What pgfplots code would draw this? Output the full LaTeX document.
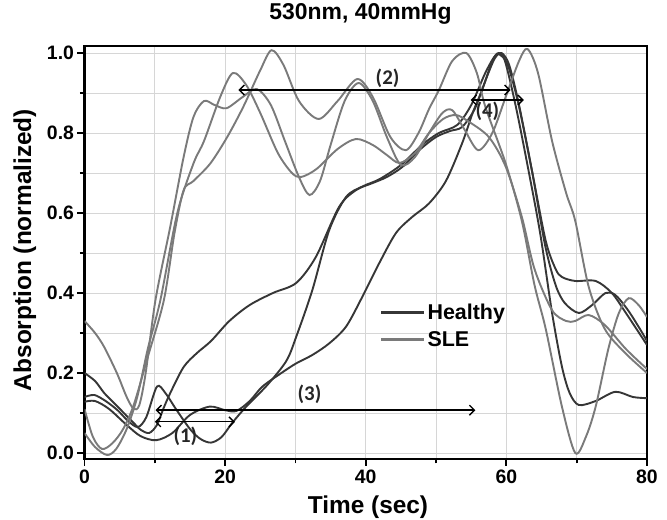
\documentclass[border=0pt]{standalone}
\usepackage{pgfplots}
\pgfplotsset{compat=1.18}
\usepackage{fontspec}
\setmainfont{Liberation Sans}
\newfontfamily\annfont{Carlito}
\usetikzlibrary{arrows.meta}
\definecolor{healthy}{HTML}{363636}
\definecolor{sle}{HTML}{7a7a7a}
\begin{document}
\begin{tikzpicture}
\useasboundingbox (0,0) rectangle (667bp,520bp);
\begin{axis}[
  at={(84.5bp,61bp)}, anchor=south west,
  scale only axis, width=562.5bp, height=413bp,
  xmin=0, xmax=80, ymin=-0.015, ymax=1.0175,
  xtick={0,20,40,60,80}, minor xtick={10,30,50,70},
  ytick={0,0.2,0.4,0.6,0.8,1.0}, minor ytick={0.1,0.3,0.5,0.7,0.9},
  grid=both,
  major grid style={black!16, line width=0.9bp},
  minor grid style={black!16, line width=0.9bp},
  tick align=outside, xtick pos=bottom, ytick pos=left,
  major tick length=7bp, minor tick length=4.5bp,
  every tick/.style={black, line width=1.8bp},
  axis line style={black, line width=2.3bp},
  /pgf/number format/assume math mode=true,
  tick label style={font=\fontsize{19.5}{21}\selectfont\bfseries},
  yticklabel style={/pgf/number format/.cd, fixed, fixed zerofill, precision=1},
  title={530nm, 40mmHg},
  title style={at={(axis description cs:0.4907,1.049)}, anchor=base, font=\fontsize{23}{25}\selectfont\bfseries},
  xlabel={Time (sec)},
  xlabel style={at={(axis description cs:0.504,-0.1308)}, anchor=base, font=\fontsize{24.5}{26}\selectfont\bfseries},
  ylabel={Absorption (normalized)},
  ylabel style={at={(axis description cs:-0.0951,0.506)}, anchor=base, font=\fontsize{24.5}{26}\selectfont\bfseries},
  legend style={at={(axis description cs:0.525,0.38)}, anchor=north west, draw=none, fill=none,
    font=\fontsize{21.5}{24}\selectfont\bfseries, row sep=6bp, inner sep=0pt},
  legend cell align=left,
  legend image code/.code={\draw[#1, line width=2.6bp] (0bp,0bp) -- (43bp,0bp);},
  every axis plot/.append style={line width=1.9bp, smooth},
]
% Healthy
\addplot[healthy] coordinates {(0,0.20) (1.5,0.18) (2.8,0.15) (4.2,0.125) (5.6,0.10) (7,0.075) (8,0.058) (9.2,0.05) (10.3,0.07) (11.2,0.11) (12.2,0.15) (14.1,0.215) (16,0.25) (18,0.28) (20.6,0.33) (23.5,0.37) (26.8,0.40) (30.1,0.425) (32.9,0.49) (36.2,0.615) (38.6,0.657) (41,0.675) (43,0.69) (45.2,0.715) (47.6,0.757) (50,0.79) (52,0.805) (53.7,0.815) (55.5,0.86) (57,0.93) (58.3,0.985) (59.3,1.0) (60.4,0.97) (61.8,0.87) (63.7,0.70) (65.5,0.52) (67,0.42) (68.3,0.375) (70.3,0.35) (72.2,0.37) (74.1,0.40) (75.5,0.395) (77.3,0.357) (79,0.31) (80,0.28)};
\addlegendentry{Healthy}
\addplot[healthy, forget plot] coordinates {(0,0.14) (1.4,0.145) (3,0.13) (4.7,0.107) (6.2,0.08) (7.6,0.065) (8.8,0.09) (10.3,0.166) (11.5,0.15) (13,0.11) (15,0.06) (16.5,0.035) (18,0.026) (19.5,0.04) (21,0.075) (23,0.116) (26,0.17) (28.7,0.23) (30.1,0.29) (32.4,0.407) (34.8,0.557) (37.2,0.64) (39.5,0.666) (42,0.685) (45,0.72) (48,0.77) (50.4,0.80) (53,0.82) (55,0.87) (57,0.95) (58.5,0.995) (59.5,0.99) (60.4,0.96) (61.8,0.866) (63.7,0.70) (65.6,0.53) (67,0.46) (67.9,0.44) (69.8,0.43) (72.7,0.43) (75,0.40) (77,0.35) (80,0.27)};
\addplot[healthy, forget plot] coordinates {(0,0.128) (1.5,0.13) (3.5,0.11) (6,0.07) (8,0.042) (10.2,0.032) (12.5,0.05) (15,0.095) (17.8,0.116) (20,0.107) (21.6,0.105) (23.5,0.13) (25.3,0.166) (28,0.20) (30.1,0.224) (32.4,0.245) (34.8,0.274) (37.2,0.316) (39.5,0.39) (41.9,0.474) (44.3,0.55) (46.6,0.59) (49,0.624) (51.4,0.68) (53.7,0.774) (55.2,0.85) (56.6,0.91) (58,0.98) (58.9,1.0) (59.8,0.98) (61.3,0.87) (63,0.72) (64.8,0.55) (66.5,0.35) (67.9,0.216) (69,0.15) (70.3,0.12) (72.7,0.13) (75.5,0.153) (78,0.14) (80,0.137)};
% SLE
\addplot[sle] coordinates {(0,0.33) (1.5,0.30) (2.8,0.265) (4.6,0.20) (6,0.14) (7,0.11) (7.8,0.12) (8.7,0.2) (10.1,0.383) (12.2,0.566) (14.1,0.74) (15.5,0.84) (17,0.88) (18.5,0.87) (20.2,0.862) (22.5,0.89) (24.5,0.91) (26.5,0.87) (28.5,0.78) (30.5,0.69) (32,0.645) (33.5,0.68) (35,0.77) (37,0.88) (39,0.925) (41,0.88) (43,0.79) (45,0.72) (47,0.74) (49,0.80) (50.9,0.85) (52.3,0.857) (54,0.81) (56,0.757) (58,0.80) (59.9,0.89) (61.8,0.98) (63,1.01) (64.5,0.95) (66.5,0.78) (68.5,0.65) (69.8,0.58) (71.7,0.416) (74,0.31) (76.9,0.25) (80,0.20)};
\addlegendentry{SLE}
\addplot[sle, forget plot] coordinates {(0,0.05) (1.5,0.015) (3.2,-0.005) (4.5,0.01) (6,0.06) (7.5,0.14) (9,0.26) (10.8,0.383) (13.2,0.60) (15.5,0.724) (17,0.78) (19.3,0.89) (21.1,0.95) (23,0.92) (25,0.85) (27.5,0.75) (29.5,0.70) (30.8,0.69) (33,0.71) (36,0.76) (38.6,0.785) (41,0.77) (43,0.745) (44.8,0.725) (47,0.75) (49,0.80) (51,0.835) (52.8,0.845) (54.5,0.83) (57.5,0.79) (59.9,0.716) (62.2,0.59) (64,0.46) (66.5,0.357) (68.5,0.33) (69.8,0.33) (71.7,0.345) (74,0.32) (77,0.26) (80,0.21)};
\addplot[sle, forget plot] coordinates {(0,0.11) (1.2,0.04) (2.5,0.01) (4,0.025) (5.5,0.06) (7,0.12) (9,0.24) (11.3,0.383) (12.8,0.55) (14.1,0.657) (15.5,0.68) (17.9,0.724) (20.3,0.79) (22.6,0.866) (25,0.957) (26.6,1.007) (28.3,0.97) (30.5,0.88) (33.3,0.835) (36,0.88) (38.8,0.935) (41,0.89) (43.5,0.79) (45.7,0.757) (47.5,0.80) (49,0.86) (50.4,0.907) (52.3,0.98) (54.3,1.0) (55.8,0.95) (57,0.866) (59.9,0.724) (62.2,0.58) (64,0.42) (65.6,0.31) (67.9,0.116) (69.8,0.0) (71.3,0.04) (72.7,0.116) (74.5,0.26) (76,0.35) (77.4,0.387) (78.8,0.37) (80,0.34)};
% annotation arrows
\addplot[black, line width=1.4bp, sharp plot, forget plot, {Straight Barb[length=5bp,width=10bp]}-{Straight Barb[length=5bp,width=10bp]}] coordinates {(10,0.078) (21.4,0.078)};
\addplot[black, line width=1.4bp, sharp plot, forget plot, {Straight Barb[length=5bp,width=10bp]}-{Straight Barb[length=5bp,width=10bp]}] coordinates {(10.1,0.107) (55.6,0.107)};
\addplot[black, line width=1.4bp, sharp plot, forget plot, {Straight Barb[length=5bp,width=10bp]}-{Straight Barb[length=5bp,width=10bp]}] coordinates {(21.9,0.9075) (60.6,0.9075)};
\addplot[black, line width=1.4bp, sharp plot, forget plot, {Straight Barb[length=5bp,width=10bp]}-{Straight Barb[length=5bp,width=10bp]}] coordinates {(54.9,0.8825) (62.5,0.8825)};
\node[font=\annfont\fontsize{21}{22}\selectfont\bfseries, text=black!85] at (axis cs:14.35,0.041) {(1)};
\node[font=\annfont\fontsize{21}{22}\selectfont\bfseries, text=black!85] at (axis cs:43.1,0.936) {(2)};
\node[font=\annfont\fontsize{21}{22}\selectfont\bfseries, text=black!85] at (axis cs:32.0,0.147) {(3)};
\node[font=\annfont\fontsize{21}{22}\selectfont\bfseries, text=black!85] at (axis cs:57.3,0.855) {(4)};
\end{axis}
\end{tikzpicture}
\end{document}
